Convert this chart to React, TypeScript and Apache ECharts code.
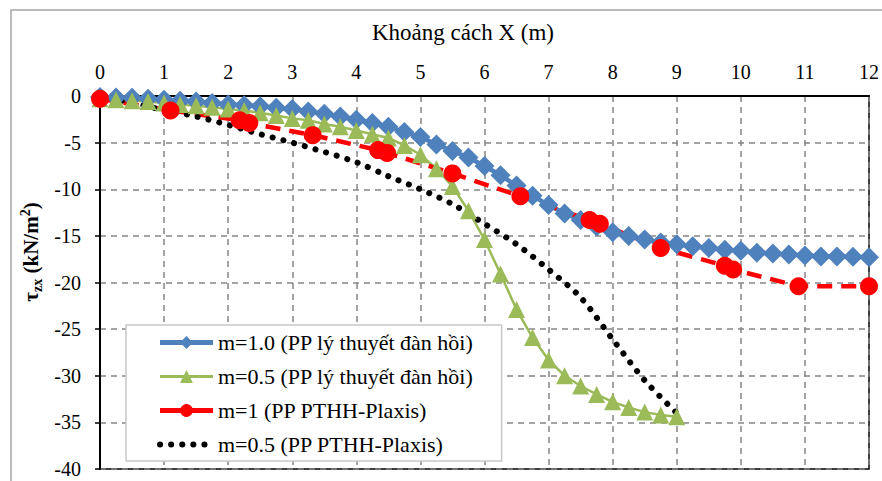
import React, { useEffect, useRef } from 'react';
import * as echarts from 'echarts';

const seriesNames = [
  'm=1.0 (PP lý thuyết đàn hồi)',
  'm=0.5 (PP lý thuyết đàn hồi)',
  'm=1 (PP PTHH-Plaxis)',
  'm=0.5 (PP PTHH-Plaxis)',
];

const blueX = [0, 0.25, 0.5, 0.75, 1, 1.25, 1.5, 1.75, 2, 2.25, 2.5, 2.75, 3, 3.25, 3.5, 3.75, 4, 4.25, 4.5, 4.75, 5, 5.25, 5.5, 5.75, 6, 6.25, 6.5, 6.75, 7, 7.25, 7.5, 7.75, 8, 8.25, 8.5, 8.75, 9, 9.25, 9.5, 9.75, 10, 10.25, 10.5, 10.75, 11, 11.25, 11.5, 11.75, 12];
const blueY = [-0.1, -0.15, -0.2, -0.3, -0.4, -0.5, -0.6, -0.75, -0.9, -1.0, -1.1, -1.25, -1.4, -1.65, -1.9, -2.2, -2.55, -2.9, -3.3, -3.85, -4.4, -5.2, -5.9, -6.6, -7.5, -8.5, -9.6, -10.7, -11.7, -12.6, -13.3, -14.0, -14.6, -15.0, -15.4, -15.7, -15.9, -16.1, -16.3, -16.5, -16.6, -16.8, -16.9, -17.0, -17.1, -17.2, -17.2, -17.25, -17.3];

const greenX = [0, 0.25, 0.5, 0.75, 1, 1.25, 1.5, 1.75, 2, 2.25, 2.5, 2.75, 3, 3.25, 3.5, 3.75, 4, 4.25, 4.5, 4.75, 5, 5.25, 5.5, 5.75, 6, 6.25, 6.5, 6.75, 7, 7.25, 7.5, 7.75, 8, 8.25, 8.5, 8.75, 9];
const greenY = [-0.3, -0.4, -0.5, -0.6, -0.75, -0.9, -1.05, -1.2, -1.4, -1.55, -1.8, -2.1, -2.4, -2.6, -3.0, -3.3, -3.7, -4.1, -4.5, -5.3, -6.3, -7.8, -9.7, -12.3, -15.4, -19.1, -22.9, -25.9, -28.3, -30.0, -31.1, -32.0, -32.8, -33.4, -33.9, -34.2, -34.4];

const redX = [0, 1.1, 2.18, 2.33, 3.32, 4.34, 4.48, 5.5, 6.56, 7.64, 7.8, 8.75, 9.75, 9.88, 10.9, 12];
const redY = [-0.3, -1.55, -2.6, -2.9, -4.2, -5.8, -6.1, -8.3, -10.75, -13.3, -13.7, -16.3, -18.2, -18.6, -20.4, -20.4];

const blackX = [0, 0.5, 1, 1.5, 2, 2.5, 3, 3.5, 4, 4.5, 5, 5.5, 6, 6.5, 7, 7.5, 8, 8.5, 9];
const blackY = [0, -0.75, -1.5, -2.2, -3.1, -4.1, -5.0, -6.0, -7.1, -8.6, -10.0, -11.6, -13.7, -15.9, -18.6, -21.6, -26.1, -30.5, -34.0];

const xTitle = 'Khoảng cách X (m)';

const pairs = (xs: number[], ys: number[]) => xs.map((x, i) => [x, ys[i]]);

const FONT = 'Times New Roman, Liberation Serif, DejaVu Serif, serif';

export default function App() {
  const ref = useRef<HTMLDivElement>(null);
  useEffect(() => {
    if (!ref.current) return;
    const chart = echarts.init(ref.current, undefined, { renderer: 'svg' });
    chart.setOption({
      animation: false,
      backgroundColor: '#fff',
      textStyle: { fontFamily: FONT },
      grid: {
        left: 100, right: 10, top: 96, bottom: 12,
        show: true, borderColor: '#000', borderWidth: 1.5, backgroundColor: 'transparent',
      },
      xAxis: {
        type: 'value', position: 'top', min: 0, max: 12, interval: 1,
        axisLine: { onZero: false, lineStyle: { color: '#000', width: 2 } },
        axisTick: { show: false },
        axisLabel: { color: '#000', fontFamily: FONT, fontSize: 20, margin: 14 },
        splitLine: { show: true, lineStyle: { color: '#858585', width: 1.5, type: [6, 5] } },
      },
      yAxis: {
        type: 'value', min: -40, max: 0, interval: 5,
        axisLine: { onZero: false, lineStyle: { color: '#000', width: 2 } },
        axisTick: { show: true, length: 5, lineStyle: { color: '#000', width: 1.5 } },
        axisLabel: { color: '#000', fontFamily: FONT, fontSize: 20, margin: 19 },
        splitLine: { show: true, lineStyle: { color: '#858585', width: 1.5, type: [6, 5] } },
      },
      legend: {
        orient: 'vertical', left: 126, top: 325,
        itemWidth: 53, itemHeight: 16, itemGap: 9,
        padding: [5, 28, 4, 31],
        backgroundColor: '#fff', borderColor: '#c8c8c8', borderWidth: 1.5,
        textStyle: { fontFamily: FONT, fontSize: 22, color: '#000', lineHeight: 25 },
        data: [
          { name: seriesNames[0], lineStyle: { width: 5 } },
          { name: seriesNames[1], lineStyle: { width: 3 } },
          { name: seriesNames[2], lineStyle: { width: 5, type: 'solid' } },
          { name: seriesNames[3], itemStyle: { opacity: 0 }, lineStyle: { width: 6, type: [0.1, 11], cap: 'round' } },
        ],
      },
      graphic: [
        {
          type: 'rect', silent: true, z: 100,
          shape: { x: 11, y: 10, width: 900, height: 500 },
          style: { fill: 'none', stroke: '#a6a6a6', lineWidth: 1.5 },
        },
        {
          type: 'text', x: 463, y: 32.5, z: 100,
          style: { text: xTitle, fontFamily: FONT, fontSize: 23, fill: '#000', align: 'center', verticalAlign: 'middle' },
        },
        {
          type: 'text', x: 31, y: 252, rotation: Math.PI / 2, z: 100,
          style: {
            text: '{a|τ}{b|zx}{a| (kN/m}{c|2}{a|)}',
            align: 'center', verticalAlign: 'middle',
            fontFamily: FONT, fontSize: 20, fontWeight: 'bold', fill: '#000',
            rich: {
              a: { fontFamily: FONT, fontSize: 21, fontWeight: 'bold', lineHeight: 26, verticalAlign: 'middle' },
              b: { fontFamily: FONT, fontSize: 14, fontWeight: 'bold', lineHeight: 26, verticalAlign: 'bottom', padding: [10, 0, 0, 0] },
              c: { fontFamily: FONT, fontSize: 14, fontWeight: 'bold', lineHeight: 26, verticalAlign: 'top', padding: [0, 0, 10, 0] },
            },
          },
        },
      ],
      series: [
        {
          name: seriesNames[0], type: 'line', data: pairs(blueX, blueY),
          symbol: 'diamond', symbolSize: 20, showAllSymbol: true,
          lineStyle: { color: '#4F81BD', width: 4.5 }, itemStyle: { color: '#4F81BD' },
        },
        {
          name: seriesNames[1], type: 'line', data: pairs(greenX, greenY),
          symbol: 'triangle', symbolSize: 17, showAllSymbol: true,
          lineStyle: { color: '#9BBB59', width: 2.5 }, itemStyle: { color: '#9BBB59' },
        },
        {
          name: seriesNames[2], type: 'line', data: pairs(redX, redY),
          symbol: 'circle', symbolSize: 18, showAllSymbol: true,
          lineStyle: { color: '#FF0000', width: 4.5, type: [15, 9] }, itemStyle: { color: '#FF0000' },
        },
        {
          name: seriesNames[3], type: 'line', data: pairs(blackX, blackY),
          symbol: 'none', smooth: 0.3,
          lineStyle: { color: '#000', width: 6, type: [0.1, 11], cap: 'round' }, itemStyle: { color: '#000' },
        },
      ],
    });
    return () => chart.dispose();
  }, []);
  return <div ref={ref} style={{ position: 'absolute', left: 0, top: 0, width: 882, height: 481 }} />;
}
